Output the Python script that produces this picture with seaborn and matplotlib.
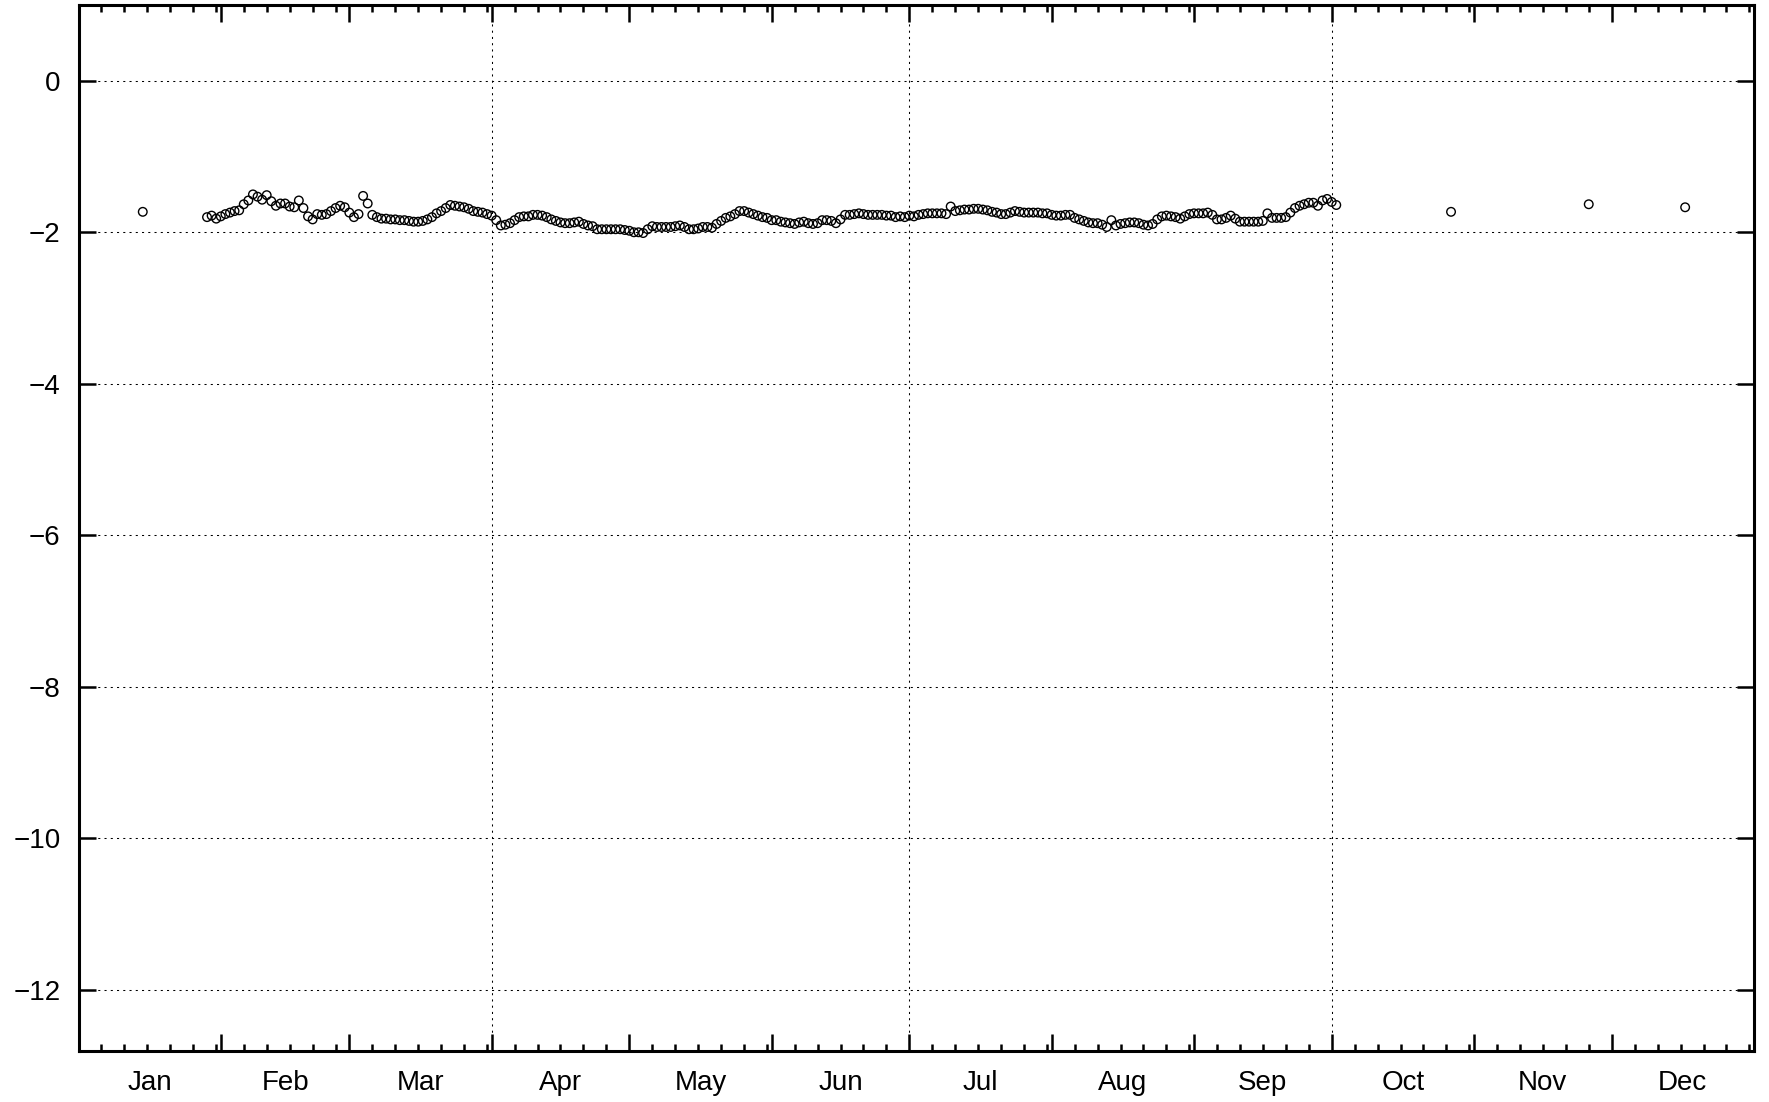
import numpy as np
import pandas as pd
import matplotlib
matplotlib.use("Agg")
import matplotlib.pyplot as plt
import seaborn as sns

# ---------------- data ----------------
month_labels = ["Jan", "Feb", "Mar", "Apr", "May", "Jun",
                "Jul", "Aug", "Sep", "Oct", "Nov", "Dec"]
month_lengths = [31, 28, 31, 30, 31, 30, 31, 31, 30, 31, 30, 31]
grid_days = [90, 181, 273]          # Apr 1, Jul 1, Oct 1

# daily series, starting on day-of-year offset 28 (Jan 29)
series_start_day = 28
series_values = [
    -1.80, -1.78, -1.82, -1.79, -1.76, -1.74, -1.72, -1.71, -1.63, -1.58,
    -1.50, -1.53, -1.57, -1.51, -1.59, -1.65, -1.62, -1.62, -1.66, -1.67,
    -1.58, -1.68, -1.79, -1.83, -1.76, -1.77, -1.76, -1.72, -1.68, -1.65,
    -1.67, -1.74, -1.80, -1.76, -1.52, -1.62, -1.77, -1.80, -1.82, -1.82,
    -1.83, -1.83, -1.84, -1.84, -1.85, -1.86, -1.86, -1.85, -1.83, -1.80,
    -1.75, -1.72, -1.68, -1.64, -1.65, -1.66, -1.67, -1.69, -1.72, -1.73,
    -1.74, -1.76, -1.78, -1.84, -1.91, -1.90, -1.88, -1.84, -1.80, -1.79,
    -1.79, -1.77, -1.77, -1.78, -1.80, -1.83, -1.85, -1.87, -1.88, -1.88,
    -1.87, -1.86, -1.89, -1.91, -1.92, -1.96, -1.96, -1.96, -1.96, -1.96,
    -1.96, -1.97, -1.98, -2.00, -2.00, -2.01, -1.96, -1.92, -1.93, -1.93,
    -1.93, -1.93, -1.92, -1.91, -1.93, -1.96, -1.96, -1.95, -1.93, -1.93,
    -1.94, -1.89, -1.85, -1.81, -1.79, -1.76, -1.72, -1.72, -1.74, -1.76,
    -1.78, -1.80, -1.81, -1.84, -1.84, -1.86, -1.87, -1.88, -1.89, -1.87,
    -1.86, -1.88, -1.89, -1.88, -1.84, -1.84, -1.85, -1.88, -1.83, -1.77,
    -1.77, -1.76, -1.75, -1.76, -1.77, -1.77, -1.77, -1.77, -1.78, -1.78,
    -1.80, -1.79, -1.80, -1.78, -1.79, -1.77, -1.76, -1.75, -1.75, -1.75,
    -1.75, -1.76, -1.66, -1.72, -1.71, -1.70, -1.70, -1.69, -1.69, -1.70,
    -1.71, -1.73, -1.74, -1.76, -1.76, -1.74, -1.72, -1.73, -1.74, -1.74,
    -1.74, -1.74, -1.75, -1.75, -1.77, -1.78, -1.78, -1.77, -1.77, -1.81,
    -1.83, -1.85, -1.87, -1.88, -1.88, -1.90, -1.93, -1.84, -1.91, -1.89,
    -1.88, -1.87, -1.87, -1.88, -1.90, -1.91, -1.89, -1.83, -1.79, -1.78,
    -1.79, -1.80, -1.82, -1.79, -1.76, -1.75, -1.75, -1.75, -1.74, -1.77,
    -1.83, -1.83, -1.81, -1.78, -1.82, -1.86, -1.86, -1.86, -1.86, -1.86,
    -1.85, -1.75, -1.81, -1.81, -1.81, -1.80, -1.74, -1.68, -1.65, -1.63,
    -1.61, -1.61, -1.65, -1.58, -1.56, -1.60, -1.64,
]

# isolated observations
extra_days = [14, 299, 329, 350]
extra_values = [-1.73, -1.73, -1.63, -1.67]

y_ticks = [0, -2, -4, -6, -8, -10, -12]

# ---------------- build frame ----------------
series_days = series_start_day + np.arange(len(series_values))
df = pd.DataFrame({
    "day": np.concatenate([extra_days[:1], series_days, extra_days[1:]]),
    "value": np.concatenate([extra_values[:1], series_values, extra_values[1:]]),
})

month_starts = np.concatenate([[0], np.cumsum(month_lengths)])
month_centers = month_starts[:-1] + np.array(month_lengths) / 2.0
minor_days = []
for start, length in zip(month_starts[:-1], month_lengths):
    k = 5
    while k < length:
        minor_days.append(start + k)
        k += 5

# ---------------- plot ----------------
sns.set_style("white")
plt.rcParams["font.family"] = ["Liberation Sans", "DejaVu Sans"]
plt.rcParams["axes.unicode_minus"] = True

W, H = 1769, 1102
fig = plt.figure(figsize=(W / 100, H / 100), dpi=100)
left, right, top, bottom = 78.5, 1754.0, 5.0, 1050.5
ax = fig.add_axes([left / W, 1 - bottom / H, (right - left) / W, (bottom - top) / H])

sns.scatterplot(data=df, x="day", y="value", ax=ax, marker="o", s=38,
                facecolor="none", edgecolor="black", linewidth=1.0,
                legend=False, zorder=3)

ax.set_xlim(0, 365)
ax.set_ylim(-12.8, 1)
ax.set_xlabel("")
ax.set_ylabel("")

ax.set_yticks(y_ticks)
ax.set_yticklabels([str(v) if v == 0 else "\u2212" + str(abs(v)) for v in y_ticks])
ax.set_xticks(month_starts)
ax.set_xticklabels([""] * len(month_starts))
ax.set_xticks(minor_days, minor=True)

grid_style = dict(color="black", linewidth=0.75, linestyle=(0, (2, 4)))
ax.yaxis.grid(True, **grid_style)
ax.xaxis.grid(False)
for d in grid_days:
    ax.axvline(d, zorder=1, **grid_style)
ax.set_axisbelow(True)

ax.tick_params(axis="both", which="major", direction="in", length=12, width=1.8,
               top=True, right=True, bottom=True, left=True, color="black")
ax.tick_params(axis="x", which="minor", direction="in", length=5, width=1.8,
               top=True, bottom=True, color="black")
ax.tick_params(axis="y", which="major", labelsize=20, pad=13, labelcolor="black")

for sp in ax.spines.values():
    sp.set_visible(True)
    sp.set_linewidth(2.2)
    sp.set_color("black")

sec = ax.secondary_xaxis("bottom")
sec.set_xticks(month_centers)
sec.set_xticklabels(month_labels)
sec.tick_params(length=0, pad=14, labelsize=20, labelcolor="black")
sec.spines["bottom"].set_visible(False)

fig.savefig("out.png", dpi=100, facecolor="white")
